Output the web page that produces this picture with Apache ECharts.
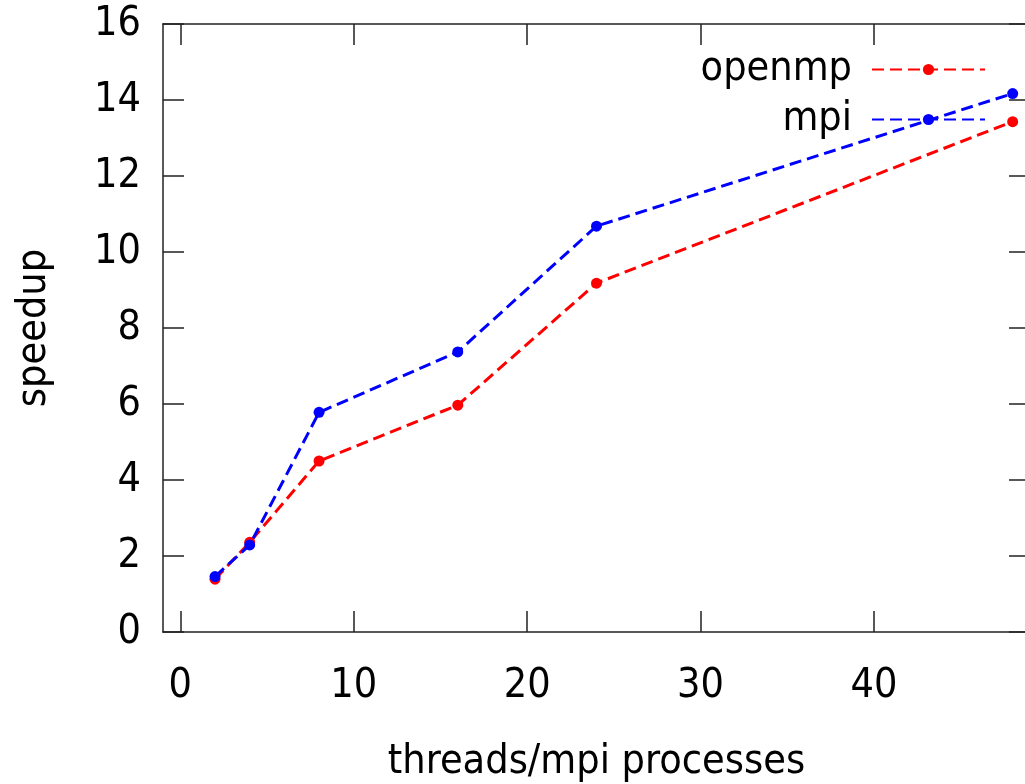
<!DOCTYPE html>
<html>
<head>
<meta charset="utf-8">
<script src="https://cdn.jsdelivr.net/npm/echarts@6/dist/echarts.min.js"></script>
<style>
html,body{margin:0;padding:0;background:#fff;}
#chart{width:1025px;height:784px;}
</style>
</head>
<body>
<div id="chart"></div>
<script>
const xValues = [2, 4, 8, 16, 24, 48];
const openmpSpeedup = [1.39, 2.36, 4.50, 5.97, 9.18, 13.43];
const mpiSpeedup = [1.46, 2.29, 5.78, 7.37, 10.68, 14.17];
const xTicks = [0, 10, 20, 30, 40];
const yTicks = [0, 2, 4, 6, 8, 10, 12, 14, 16];

const FONT = 'DejaVu Sans Condensed, DejaVu Sans, sans-serif';
const AX = '#222';

function pairs(xs, ys) { return xs.map((x, i) => [x, ys[i]]); }

function ticks(extra) {
  return Object.assign({ show: true, inside: true, length: 21, lineStyle: { color: AX, width: 1.5 } }, extra || {});
}
function lineOn() { return { show: true, onZero: false, lineStyle: { color: AX, width: 1.5 } }; }

const chart = echarts.init(document.getElementById('chart'), null, { renderer: 'canvas' });
chart.setOption({
  animation: false,
  backgroundColor: '#fff',
  textStyle: { fontFamily: FONT },
  grid: { left: 163, top: 24, width: 867, height: 608, outerBoundsMode: 'none', containLabel: false, show: false },
  legend: {
    orient: 'vertical',
    right: 39,
    top: 49,
    padding: 0,
    align: 'right',
    itemWidth: 113,
    itemHeight: 14,
    itemGap: 9,
    textStyle: { fontFamily: FONT, fontSize: 41, color: '#000', padding: [0, 15, 0, 0] },
    data: ['openmp', 'mpi']
  },
  xAxis: [{
    type: 'value', min: -1, max: 49, position: 'bottom',
    name: 'threads/mpi processes', nameLocation: 'middle', nameGap: 110,
    nameTextStyle: { fontFamily: FONT, fontSize: 41, color: '#000' },
    axisLine: lineOn(),
    splitLine: { show: false },
    axisTick: ticks({ customValues: xTicks }),
    axisLabel: { customValues: xTicks, fontFamily: FONT, fontSize: 41, color: '#000', margin: 34 }
  }, {
    type: 'value', min: -1, max: 49, position: 'top',
    axisLine: lineOn(), splitLine: { show: false },
    axisTick: ticks({ customValues: xTicks }),
    axisLabel: { show: false }
  }],
  yAxis: [{
    type: 'value', min: 0, max: 16, interval: 2, position: 'left',
    name: 'speedup', nameLocation: 'middle', nameGap: 108,
    nameTextStyle: { fontFamily: FONT, fontSize: 41, color: '#000' },
    axisLine: lineOn(), splitLine: { show: false },
    axisTick: ticks(),
    axisLabel: { fontFamily: FONT, fontSize: 41, color: '#000', margin: 22 }
  }, {
    type: 'value', min: 0, max: 16, interval: 2, position: 'right', offset: -21,
    axisLine: { show: false, onZero: false }, splitLine: { show: false },
    axisTick: ticks({ inside: false, customValues: yTicks }), axisLabel: { show: false }
  }],
  series: [{
    name: 'openmp', type: 'line', data: pairs(xValues, openmpSpeedup),
    symbol: 'circle', symbolSize: 11,
    itemStyle: { color: '#ff0000' },
    lineStyle: { color: '#ff0000', width: 3, type: [12, 6] }
  }, {
    name: 'mpi', type: 'line', data: pairs(xValues, mpiSpeedup),
    symbol: 'circle', symbolSize: 11,
    itemStyle: { color: '#0000ff' },
    lineStyle: { color: '#0000ff', width: 3, type: [12, 6] }
  }]
});
</script>
</body>
</html>
